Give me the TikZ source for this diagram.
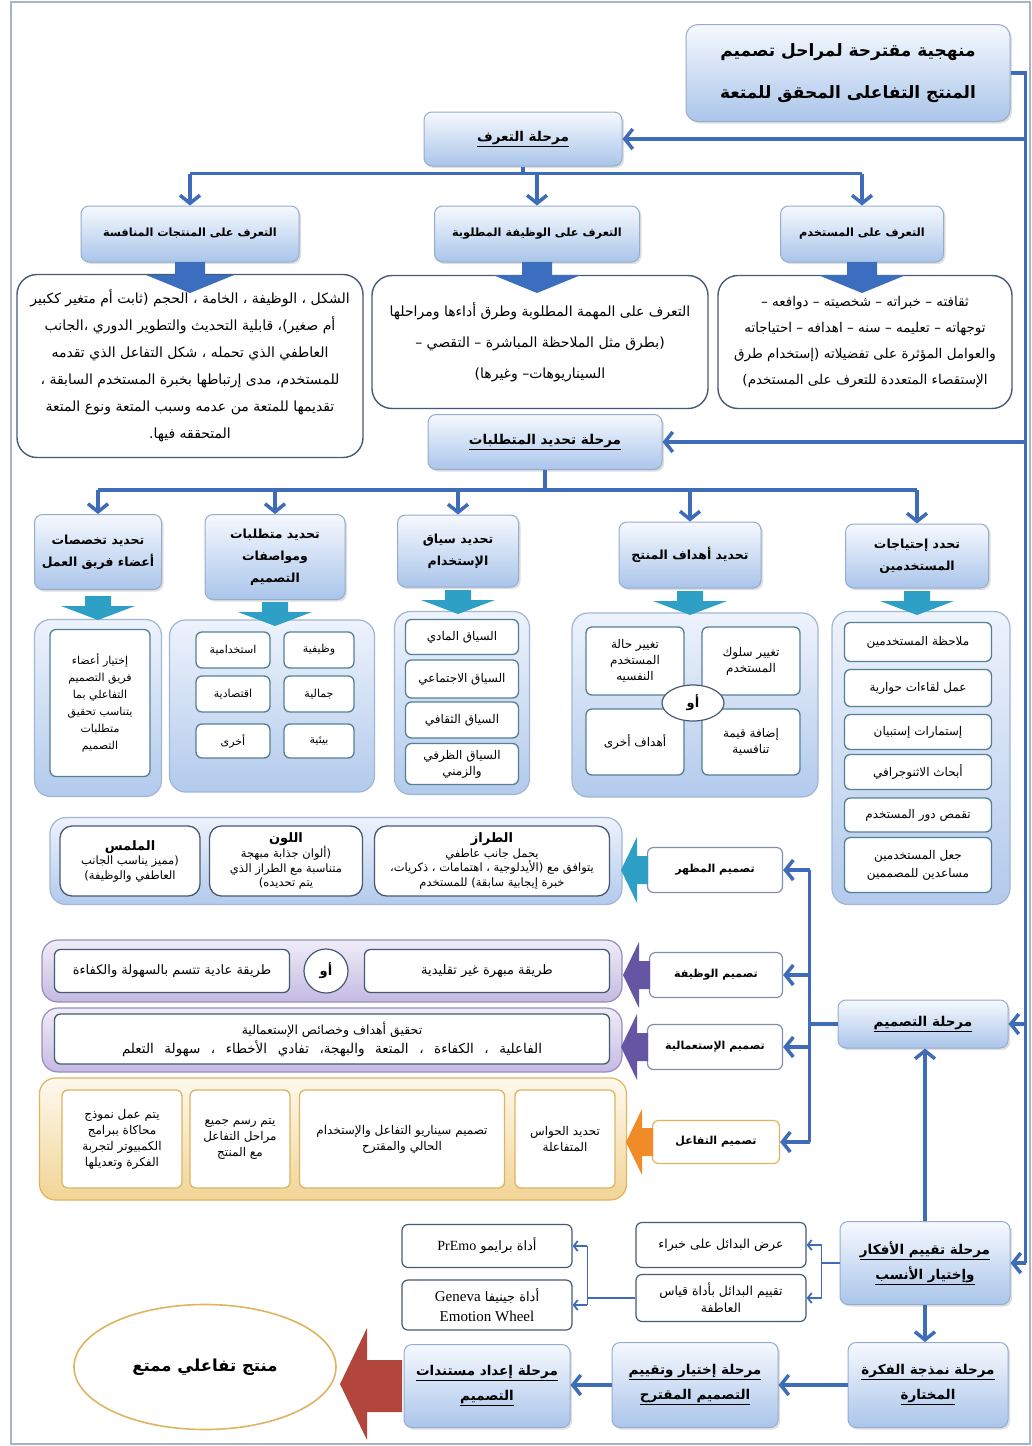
\documentclass[tikz,border=0pt]{standalone}
\usepackage{fontspec}
\newfontfamily\arabicfont[Script=Arabic]{DejaVu Sans}
\newfontfamily\latinserif{Liberation Serif}
\TeXXeTstate=1
\usetikzlibrary{arrows.meta,shapes.geometric,shadows}

\definecolor{linkblue}{RGB}{62,108,184}
\definecolor{bigblue}{RGB}{60,110,192}
\definecolor{phasetop}{RGB}{246,249,254}
\definecolor{phasebot}{RGB}{170,197,234}
\definecolor{phaseline}{RGB}{150,172,205}
\definecolor{descline}{RGB}{72,90,114}
\definecolor{contTop}{RGB}{238,243,252}
\definecolor{contBot}{RGB}{178,202,236}
\definecolor{contline}{RGB}{160,182,214}
\definecolor{itemline}{RGB}{84,128,150}
\definecolor{tealblk}{RGB}{46,160,198}
\definecolor{purpTop}{RGB}{240,237,248}
\definecolor{purpBot}{RGB}{196,186,226}
\definecolor{purpline}{RGB}{152,140,192}
\definecolor{purpblk}{RGB}{100,86,162}
\definecolor{goldTop}{RGB}{254,249,238}
\definecolor{goldBot}{RGB}{241,212,150}
\definecolor{goldline}{RGB}{222,180,96}
\definecolor{orangeblk}{RGB}{240,140,40}
\definecolor{redblk}{RGB}{178,70,60}
\definecolor{dsgnline}{RGB}{128,142,166}
\definecolor{framegray}{RGB}{165,180,200}

\newcommand{\fsz}[2]{\fontsize{#1}{#2}\selectfont}
\newcommand{\artx}[1]{{\arabicfont\beginR#1\endR}}
\newcommand{\phul}[1]{\underline{\artx{#1}}}
% block arrows (x, y of the shaft end)
\newcommand{\bigdown}[2]{\fill[bigblue] (#1-15,#2) -- (#1+15,#2) -- (#1+15,#2+13)
  -- (#1+44,#2+13) -- (#1,#2+31) -- (#1-44,#2+13) -- (#1-15,#2+13) -- cycle;}
\newcommand{\smalldown}[2]{\fill[tealblk] (#1-13,#2) -- (#1+13,#2) -- (#1+13,#2+10)
  -- (#1+37,#2+10) -- (#1,#2+24) -- (#1-37,#2+10) -- (#1-13,#2+10) -- cycle;}
\newcommand{\leftblk}[3]{\fill[#3] (#1,#2-14) -- (#1-11,#2-14) -- (#1-11,#2-33)
  -- (#1-27,#2) -- (#1-11,#2+33) -- (#1-11,#2+14) -- (#1,#2+14) -- cycle;}

\tikzset{
  wh/.style 2 args={minimum width=#1pt, minimum height=#2pt},
  phase/.style={draw=phaseline, line width=1pt, rounded corners=8pt,
    top color=phasetop, bottom color=phasebot, align=center, inner sep=2pt,
    font=\fsz{13.5}{22}\bfseries,
    drop shadow={shadow xshift=2pt, shadow yshift=-2pt, opacity=.25, fill=gray}},
  sub/.style={phase, font=\fsz{11.3}{22}\bfseries},
  subtwo/.style={phase, font=\fsz{12.5}{22}\bfseries},
  desc/.style={draw=descline, line width=1.4pt, fill=white, rounded corners=20pt,
    align=center, inner sep=2pt, font=\fsz{14}{27.5}},
  cont/.style={draw=contline, line width=1.2pt, rounded corners=16pt,
    top color=contTop, bottom color=contBot},
  purpcont/.style={cont, draw=purpline, top color=purpTop, bottom color=purpBot},
  goldcont/.style={cont, draw=goldline, top color=goldTop, bottom color=goldBot},
  item/.style={draw=itemline, line width=1.3pt, fill=white, rounded corners=6pt,
    align=center, inner sep=1pt, font=\fsz{12}{16}},
  orbox/.style={ellipse, draw=descline, line width=1.2pt, fill=white,
    inner sep=0pt, font=\fsz{13}{14}\bfseries},
  dsgn/.style={draw=dsgnline, line width=1.2pt, fill=white, rounded corners=6pt,
    align=center, font=\fsz{11}{14}\bfseries},
  link/.style={draw=linkblue, line width=3.5pt},
  linkhead/.style={-{Straight Barb[length=8pt,width=20pt]}},
  thinlink/.style={draw=linkblue, line width=1.8pt},
  smallhead/.style={-{Straight Barb[length=4pt,width=10pt]}},
}

\begin{document}
\begin{tikzpicture}[x=1pt,y=-1pt]
  \useasboundingbox (0,0) rectangle (1032,1446);
  \fill[white] (0,0) rectangle (1032,1446);
  \draw[framegray, line width=2pt] (11,2) rectangle (1030,1444);

  % title and first phase
  \node[phase, wh={324}{97}, rounded corners=12pt, font=\fsz{17}{42}\bfseries] (title) at (848,73)
        {\artx{منهجية مقترحة لمراحل تصميم}\\\artx{المنتج التفاعلى المحقق  للمتعة}};
  \node[phase, wh={198}{54}] (p1) at (523,139) {\phul{مرحلة التعرف}};

  \node[sub, wh={218}{56}] (s11) at (190,234) {\artx{التعرف على المنتجات المنافسة}};
  \node[sub, wh={205}{56}] (s12) at (537,234) {\artx{التعرف على الوظيفة المطلوبة}};
  \node[sub, wh={163}{56}] (s13) at (862,234) {\artx{التعرف على المستخدم}};

  \node[desc, wh={346}{183}, font=\fsz{14}{27}] (d11) at (190,366)
        {\artx{الشكل ، الوظيفة ، الخامة ، الحجم (ثابت أم متغير ككبير}\\
         \artx{أم صغير)، قابلية التحديث والتطوير الدوري ،الجانب}\\
         \artx{العاطفي الذي تحمله ، شكل التفاعل الذي تقدمه}\\
         \artx{للمستخدم، مدى إرتباطها بخبرة المستخدم السابقة ،}\\
         \artx{تقديمها للمتعة من عدمه وسبب المتعة ونوع المتعة}\\
         \artx{المتحققه فيها.}};
  \node[desc, wh={336}{133}, font=\fsz{14}{31}] (d12) at (540,342)
        {\artx{التعرف على المهمة المطلوبة وطرق أداءها ومراحلها}\\
         \artx{(بطرق مثل الملاحظة المباشرة – التقصي –}\\
         \artx{السيناريوهات– وغيرها)}};
  \node[desc, wh={294}{133}, font=\fsz{13.5}{26}] (d13) at (865,342)
        {\artx{ثقافته – خبراته – شخصيته – دوافعه –}\\
         \artx{توجهاته – تعليمه – سنه – اهدافه – احتياجاته}\\
         \artx{والعوامل المؤثرة على تفضيلاته (إستخدام طرق}\\
         \artx{الإستقصاء المتعددة للتعرف على المستخدم)}};
  \bigdown{190}{262}
  \bigdown{537}{262}
  \bigdown{862}{262}

  % requirements phase
  \node[phase, wh={234}{55}] (p2) at (545,442) {\phul{مرحلة تحديد المتطلبات}};

  \node[subtwo, wh={127}{75}] (s21) at (98,552) {\artx{تحديد تخصصات}\\\artx{أعضاء فريق العمل}};
  \node[subtwo, wh={140}{85}] (s22) at (275,557) {\artx{تحديد متطلبات}\\\artx{ومواصفات}\\\artx{التصميم}};
  \node[subtwo, wh={121}{72}] (s23) at (458,551) {\artx{تحديد سياق}\\\artx{الإستخدام}};
  \node[subtwo, wh={142}{66}] (s24) at (690,555) {\artx{تحديد أهداف المنتج}};
  \node[subtwo, wh={143}{64}] (s25) at (917,556) {\artx{تحدد إحتياجات}\\\artx{المستخدمين}};

  \node[cont, wh={127}{177}] (c21) at (98,708) {};
  \node[item, wh={100}{147}, font=\fsz{11}{17}] (i21) at (100,703)
        {\artx{إختيار أعضاء}\\\artx{فريق التصميم}\\\artx{التفاعلي بما}\\
         \artx{يتناسب تحقيق}\\\artx{متطلبات}\\\artx{التصميم}};

  \node[cont, wh={205}{172}] (c22) at (272,706) {};
  \node[item, wh={70}{36}, font=\fsz{11}{16}] (g1) at (319,650) {\artx{وظيفية}};
  \node[item, wh={74}{36}, font=\fsz{11}{16}] (g2) at (233,650) {\artx{استخدامية}};
  \node[item, wh={70}{36}, font=\fsz{11}{16}] (g3) at (319,694) {\artx{جمالية}};
  \node[item, wh={74}{36}, font=\fsz{11}{16}] (g4) at (233,694) {\artx{اقتصادية}};
  \node[item, wh={70}{34}, font=\fsz{11}{16}] (g5) at (319,741) {\artx{بيئية}};
  \node[item, wh={74}{34}, font=\fsz{11}{16}] (g6) at (233,741) {\artx{أخرى}};

  \node[cont, wh={135}{183}] (c23) at (462,703) {};
  \node[item, wh={113}{35}] (x1) at (462,637) {\artx{السياق المادي}};
  \node[item, wh={113}{38}] (x2) at (462,679) {\artx{السياق الاجتماعي}};
  \node[item, wh={113}{36}] (x3) at (462,720) {\artx{السياق الثقافي}};
  \node[item, wh={113}{41}] (x4) at (462,764) {\artx{السياق الظرفي}\\\artx{والزمني}};

  \node[cont, wh={246}{184}] (c24) at (695,705) {};
  \node[item, wh={98}{68}] (o1) at (751,661) {\artx{تغيير سلوك}\\\artx{المستخدم}};
  \node[item, wh={98}{68}] (o2) at (635,661) {\artx{تغيير حالة}\\\artx{المستخدم}\\\artx{النفسيه}};
  \node[item, wh={98}{66}] (o3) at (751,742) {\artx{إضافة قيمة}\\\artx{تنافسية}};
  \node[item, wh={98}{66}] (o4) at (635,742) {\artx{أهداف أخرى}};
  \node[orbox, wh={62}{36}] (or1) at (693,703) {\artx{أو}};

  \node[cont, wh={178}{293}] (c25) at (921,758) {};
  \node[item, wh={147}{39}] (u1) at (918,642) {\artx{ملاحظة المستخدمين}};
  \node[item, wh={147}{37}] (u2) at (918,688) {\artx{عمل لقاءات حوارية}};
  \node[item, wh={147}{35}] (u3) at (918,732) {\artx{إستمارات إستبيان}};
  \node[item, wh={147}{35}] (u4) at (918,772) {\artx{أبحاث الاثنوجرافي}};
  \node[item, wh={147}{34}] (u5) at (918,815) {\artx{تقمص دور المستخدم}};
  \node[item, wh={147}{55}, font=\fsz{12}{18}] (u6) at (918,865) {\artx{جعل المستخدمين}\\\artx{مساعدين للمصممين}};

  \smalldown{98}{596}
  \smalldown{275}{602}
  \smalldown{458}{590}
  \smalldown{690}{591}
  \smalldown{917}{591}

  % design phase
  \node[phase, wh={170}{48}] (p3) at (923,1024) {\phul{مرحلة التصميم}};

  \node[dsgn, wh={135}{45}] (ds1) at (715,870) {\artx{تصميم المظهر}};
  \node[dsgn, wh={133}{45}] (ds2) at (716,975) {\artx{تصميم الوظيفة}};
  \node[dsgn, wh={135}{45}] (ds3) at (715,1047) {\artx{تصميم الإستعمالية}};
  \node[dsgn, wh={127}{43}, draw=goldline] (ds4) at (716,1142) {\artx{تصميم التفاعل}};

  \node[cont, wh={572}{87}] (ca) at (336,861) {};
  \node[item, wh={235}{70}, draw=descline, rounded corners=12pt, font=\fsz{11.5}{14.5}] (a1) at (492,861)
        {{\fsz{13}{16}\bfseries\artx{الطراز}}\\\artx{يحمل جانب عاطفي}\\
         \artx{يتوافق مع (الأيدلوجية ، اهتمامات ، ذكريات،}\\\artx{خبرة إيجابية سابقة) للمستخدم}};
  \node[item, wh={153}{70}, draw=descline, rounded corners=12pt, font=\fsz{11.5}{14.5}] (a2) at (286,861)
        {{\fsz{13}{16}\bfseries\artx{اللون}}\\\artx{(ألوان جذابة مبهجة}\\
         \artx{متناسبة مع الطراز الذي}\\\artx{يتم تحديده)}};
  \node[item, wh={140}{70}, draw=descline, rounded corners=12pt, font=\fsz{11.5}{14.5}] (a3) at (130,861)
        {{\fsz{13}{16}\bfseries\artx{الملمس}}\\\artx{(مميز يناسب الجانب}\\\artx{العاطفي والوظيفة)}};

  \node[purpcont, wh={580}{62}] (cf) at (332,971) {};
  \node[item, wh={245}{43}, draw=descline, font=\fsz{13}{16}] (f1) at (487,971) {\artx{طريقة مبهرة غير تقليدية}};
  \node[item, wh={235}{43}, draw=descline, font=\fsz{13}{16}] (f2) at (172,971) {\artx{طريقة عادية تتسم بالسهولة والكفاءة}};
  \node[orbox, wh={44}{44}] (or2) at (326,971) {\artx{أو}};

  \node[purpcont, wh={580}{64}] (cu) at (332,1040) {};
  \node[item, wh={555}{50}, draw=descline, font=\fsz{12.5}{19}] (us) at (332,1039)
        {\artx{تحقيق أهداف وخصائص الإستعمالية}\\
         {\fsz{13.5}{19}\makebox[420pt][s]{\artx{الفاعلية ، الكفاءة ، المتعة والبهجة، تفادي الأخطاء ، سهولة التعلم}}}};

  \node[goldcont, wh={587}{122}] (ci) at (333,1139) {};
  \node[item, wh={100}{98}, draw=goldline] (n1) at (565,1139) {\artx{تحديد الحواس}\\\artx{المتفاعلة}};
  \node[item, wh={205}{98}, draw=goldline] (n2) at (402,1139)
        {\artx{تصميم سيناريو التفاعل والإستخدام}\\\artx{الحالي والمقترح}};
  \node[item, wh={100}{98}, draw=goldline] (n3) at (240,1139)
        {\artx{يتم رسم جميع}\\\artx{مراحل التفاعل}\\\artx{مع المنتج}};
  \node[item, wh={120}{98}, draw=goldline] (n4) at (122,1139)
        {\artx{يتم عمل نموذج}\\\artx{محاكاة ببرامج}\\\artx{الكمبيوتر لتجربة}\\\artx{الفكرة وتعديلها}};

  \leftblk{648}{870}{tealblk}
  \leftblk{650}{975}{purpblk}
  \leftblk{648}{1047}{purpblk}
  \leftblk{653}{1142}{orangeblk}

  % evaluation and last phases
  \node[phase, wh={170}{83}, font=\fsz{13.5}{25}\bfseries] (p4) at (925,1263)
        {\phul{مرحلة تقييم الأفكار}\\\phul{وإختيار الأنسب}};
  \node[dsgn, wh={170}{45}, draw=descline, font=\fsz{12.5}{17}] (e1) at (721,1245) {\artx{عرض البدائل على خبراء}};
  \node[dsgn, wh={170}{47}, draw=descline, font=\fsz{12.5}{17}] (e2) at (721,1298)
        {\artx{تقييم البدائل بأداة قياس}\\\artx{العاطفة}};
  \node[dsgn, wh={170}{43}, draw=descline, font=\fsz{13}{17}] (t1) at (487,1246)
        {\artx{أداة برايمو \beginL{\latinserif\fsz{14}{17}PrEmo}\endL}};
  \node[dsgn, wh={170}{50}, draw=descline, font=\fsz{13}{20}] (t2) at (487,1305)
        {\artx{أداة جينيفا \beginL{\latinserif\fsz{15}{20}Geneva}\endL}\\{\latinserif\fsz{15}{20}Emotion Wheel}};

  \node[phase, wh={160}{85}, font=\fsz{13.5}{25}\bfseries] (p5) at (928,1385)
        {\phul{مرحلة نمذجة الفكرة}\\\phul{المختارة}};
  \node[phase, wh={166}{85}, font=\fsz{13.5}{25}\bfseries] (p6) at (695,1385)
        {\phul{مرحلة إختيار وتقييم}\\\phul{التصميم المقترح}};
  \node[phase, wh={166}{83}, font=\fsz{13.5}{25}\bfseries] (p7) at (487,1386)
        {\phul{مرحلة إعداد مستندات}\\\phul{التصميم}};

  \node[ellipse, draw=goldline, line width=1.6pt, fill=white, wh={262}{125},
        font=\fsz{16.5}{18}\bfseries] (final) at (205,1367) {\artx{منتج تفاعلي ممتع}};
  \fill[redblk] (402,1360) -- (367,1360) -- (367,1328) -- (340,1384)
        -- (367,1440) -- (367,1412) -- (402,1412) -- cycle;

  % connectors
  \draw[link] (title.east) -- ++(15,0) coordinate (rb) -- (rb |- p4.east);
  \foreach \p in {p1,p2,p3,p4}
    \draw[link,linkhead] (rb |- \p.east) -- (\p.east);

  \draw[link] (p1.south) -- ++(0,7) coordinate (b1);
  \draw[link] (s11.north |- b1) -- (s13.north |- b1);
  \foreach \s in {s11,s12,s13}
    \draw[link,linkhead] (\s.north |- b1) -- (\s.north);

  \draw[link] (p2.south) -- ++(0,20) coordinate (b2);
  \draw[link] (s21.north |- b2) -- (s25.north |- b2);
  \foreach \s in {s21,s22,s23,s24,s25}
    \draw[link,linkhead] (\s.north |- b2) -- (\s.north);

  \draw[link] (p3.west) -- ++(-28,0) coordinate (db);
  \draw[link] (db |- ds1.east) -- (db |- ds4.east);
  \foreach \d in {ds1,ds2,ds3,ds4}
    \draw[link,linkhead] (db |- \d.east) -- (\d.east);
  \draw[link,linkhead] (p4.north) -- (p4.north |- p3.south);

  \draw[thinlink] (p4.west) -- ++(-18,0) coordinate (eb);
  \draw[thinlink] (eb |- e1.east) -- (eb |- e2.east);
  \foreach \e in {e1,e2}
    \draw[thinlink,smallhead] (eb |- \e.east) -- (\e.east);
  \draw[thinlink] (e2.west) -- ++(-48,0) coordinate (tb);
  \draw[thinlink] (tb |- t1.east) -- (tb |- t2.east);
  \foreach \t in {t1,t2}
    \draw[thinlink,smallhead] (tb |- \t.east) -- (\t.east);

  \draw[link,linkhead] (p4.south) -- (p4.south |- p5.north);
  \draw[link,linkhead] (p5.west) -- (p6.east);
  \draw[link,linkhead] (p6.west) -- (p7.east |- p6.west);
\end{tikzpicture}
\end{document}
